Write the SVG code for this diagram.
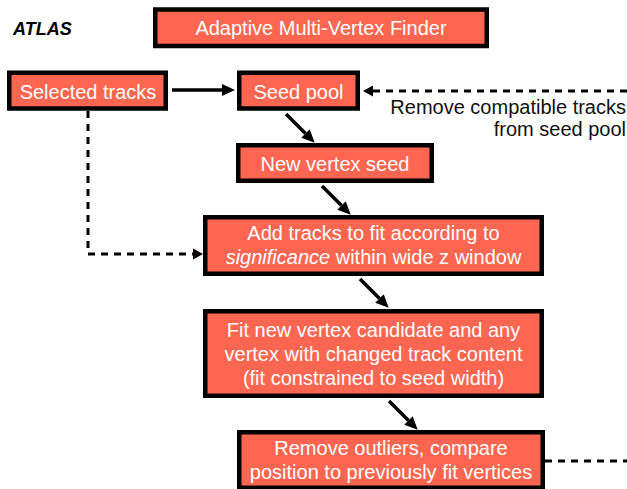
<svg xmlns="http://www.w3.org/2000/svg" width="627" height="489" viewBox="0 0 627 489">
  <style>
    .box { fill: #ff6651; stroke: #000; stroke-width: 4.5; }
    .lbl { font-family: "Liberation Sans", Arial, sans-serif; font-size: 20px; fill: #fff; text-anchor: middle; }
    .note { font-family: "Liberation Sans", Arial, sans-serif; font-size: 20px; fill: #111; text-anchor: end; }
    .solid { fill: none; stroke: #000; stroke-width: 3.5; marker-end: url(#head); }
    .dash { fill: none; stroke: #000; stroke-width: 3; stroke-dasharray: 7 6; }
  </style>
  <defs>
    <marker id="head" markerUnits="userSpaceOnUse" markerWidth="14" markerHeight="12" refX="0" refY="6" orient="auto">
      <path d="M0,0 L13,6 L0,12 z" fill="#000"/>
    </marker>
    <marker id="dhead" markerUnits="userSpaceOnUse" markerWidth="11" markerHeight="12" refX="0" refY="6" orient="auto">
      <path d="M0,0.5 L10,6 L0,11.5 z" fill="#000"/>
    </marker>
  </defs>

  <rect width="627" height="489" fill="#fff"/>

  <text x="13" y="35" font-family="Liberation Sans, Arial, sans-serif" font-size="18" font-weight="bold" font-style="italic" fill="#000">ATLAS</text>

  <g id="title">
    <rect class="box" x="155.25" y="9.5" width="331.5" height="36.5"/>
    <text class="lbl" x="321" y="35">Adaptive Multi-Vertex Finder</text>
  </g>

  <g id="selected-tracks">
    <rect class="box" x="9.25" y="72.75" width="156.5" height="35.75"/>
    <text class="lbl" x="88" y="99">Selected tracks</text>
  </g>

  <g id="seed-pool">
    <rect class="box" x="239.25" y="72.75" width="118.5" height="35.75"/>
    <text class="lbl" x="298.5" y="99">Seed pool</text>
  </g>

  <g id="remove-note">
    <text class="note" x="626" y="114">Remove compatible tracks</text>
    <text class="note" x="626" y="136">from seed pool</text>
  </g>

  <g id="new-vertex-seed">
    <rect class="box" x="238.25" y="145.25" width="193.5" height="35.5"/>
    <text class="lbl" x="335" y="170.5">New vertex seed</text>
  </g>

  <g id="add-tracks">
    <rect class="box" x="205.25" y="217.25" width="336.5" height="56.5"/>
    <text class="lbl" x="373.5" y="240">Add tracks to fit according to</text>
    <text class="lbl" x="373.5" y="264"><tspan font-style="italic">significance</tspan> within wide z window</text>
  </g>

  <g id="fit-vertex">
    <rect class="box" x="205.25" y="311.25" width="336.5" height="84.5"/>
    <text class="lbl" x="373.5" y="337">Fit new vertex candidate and any</text>
    <text class="lbl" x="373.5" y="361">vertex with changed track content</text>
    <text class="lbl" x="373.5" y="385">(fit constrained to seed width)</text>
  </g>

  <g id="remove-outliers">
    <rect class="box" x="239.25" y="432.25" width="303.5" height="55.5"/>
    <text class="lbl" x="391" y="455">Remove outliers, compare</text>
    <text class="lbl" x="391" y="479">position to previously fit vertices</text>
  </g>

  <g id="connectors">
    <path class="solid" d="M172,90 H222"/>
    <path class="solid" d="M286,114 L305.5,133.5"/>
    <path class="solid" d="M322,186 L341.5,205.5"/>
    <path class="solid" d="M360,279 L379.5,298.5"/>
    <path class="solid" d="M389,401 L408.5,420.5"/>
    <path class="dash" d="M627,91 H373" marker-end="url(#dhead)"/>
    <path class="dash" d="M88,111 V254 H193" marker-end="url(#dhead)"/>
    <path class="dash" d="M545,461 H627"/>
  </g>
</svg>
